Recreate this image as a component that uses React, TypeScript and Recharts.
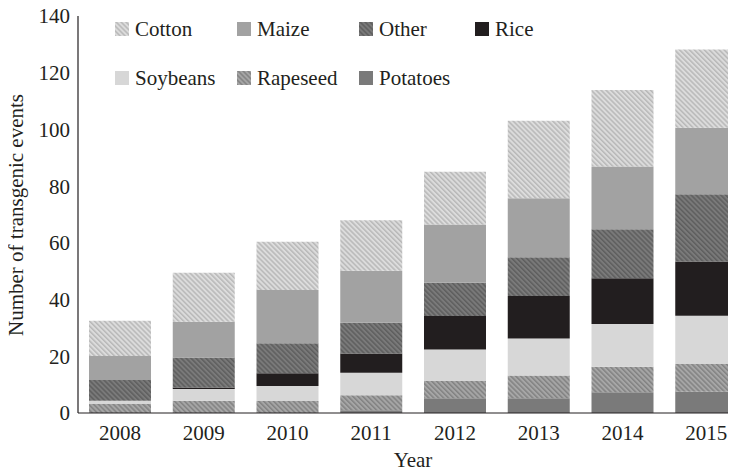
import React from 'react';
import { BarChart, Bar, XAxis, YAxis, Legend } from 'recharts';

const years = ['2008', '2009', '2010', '2011', '2012', '2013', '2014', '2015'];
const potatoes = [0, 0, 0, 1, 5.2, 5.2, 7.3, 7.5];
const rapeseed = [3.2, 4.3, 4.2, 5.3, 6.1, 8, 9, 9.8];
const soybeans = [1.1, 4.2, 5.3, 7.9, 11.1, 13.1, 15.1, 17];
const rice = [0, 0.5, 4.5, 6.8, 11.8, 15, 16.1, 19.1];
const other = [7.3, 10.6, 10.6, 10.8, 11.7, 13.6, 17.3, 23.7];
const maize = [8.5, 12.6, 18.8, 18.4, 20.6, 20.8, 22.1, 23.5];
const cotton = [12.4, 17.3, 17, 17.8, 18.6, 27.4, 27, 27.6];
const yTicks = [0, 20, 40, 60, 80, 100, 120, 140];
const legendOrder = ['Cotton', 'Maize', 'Other', 'Rice', 'Soybeans', 'Rapeseed', 'Potatoes'];

const data = years.map((year, i) => ({
  year,
  Potatoes: potatoes[i],
  Rapeseed: rapeseed[i],
  Soybeans: soybeans[i],
  Rice: rice[i],
  Other: other[i],
  Maize: maize[i],
  Cotton: cotton[i],
}));

const FONT = "'Liberation Serif', 'Times New Roman', serif";
const INK = '#231f20';

const series = [
  { key: 'Potatoes', fill: '#7a7a7a' },
  { key: 'Rapeseed', fill: 'url(#hatchRapeseed)' },
  { key: 'Soybeans', fill: '#d7d7d7' },
  { key: 'Rice', fill: '#221e1f' },
  { key: 'Other', fill: 'url(#hatchOther)' },
  { key: 'Maize', fill: '#a2a2a2' },
  { key: 'Cotton', fill: 'url(#hatchCotton)' },
];

const colWidths = [122, 122, 116, 120];

const LegendContent = (props: any) => {
  const payload: any[] = (props.payload || []).slice();
  payload.sort((a, b) => legendOrder.indexOf(a.value) - legendOrder.indexOf(b.value));
  return (
    <div style={{ position: 'relative', width: 0, height: 0, overflow: 'visible' }}>
      {payload.map((entry, idx) => {
        const row = idx < 4 ? 0 : 1;
        const col = idx < 4 ? idx : idx - 4;
        let left = 0;
        for (let c = 0; c < col; c++) left += colWidths[c];
        return (
          <div
            key={entry.value}
            style={{
              position: 'absolute',
              left,
              top: row * 49,
              display: 'flex',
              alignItems: 'center',
              height: 20,
              whiteSpace: 'nowrap',
            }}
          >
            <svg width={14} height={14} style={{ display: 'block' }}>
              <rect x={0} y={0} width={14} height={14} fill={entry.color} />
            </svg>
            <span style={{ marginLeft: 6, fontFamily: FONT, fontSize: 21, color: INK, lineHeight: '20px' }}>
              {entry.value}
            </span>
          </div>
        );
      })}
    </div>
  );
};

export default function App() {
  return (
    <div style={{ position: 'relative', marginLeft: -8, marginTop: -8, width: 736, height: 473, overflow: 'hidden', background: '#fff' }}>
      <BarChart
        width={748}
        height={473}
        data={data}
        margin={{ top: 16, right: 0, bottom: 0, left: 0 }}
        barSize={62}
      >
        <defs>
          <pattern id="hatchCotton" patternUnits="userSpaceOnUse" width={3.5} height={3.5} patternTransform="rotate(-45)">
            <rect width={3.5} height={3.5} fill="#dcdcdc" />
            <rect width={1.5} height={3.5} fill="#b8b8b8" />
          </pattern>
          <pattern id="hatchOther" patternUnits="userSpaceOnUse" width={3.5} height={3.5} patternTransform="rotate(-45)">
            <rect width={3.5} height={3.5} fill="#7a7a7a" />
            <rect width={1.5} height={3.5} fill="#5e5e5e" />
          </pattern>
          <pattern id="hatchRapeseed" patternUnits="userSpaceOnUse" width={3.5} height={3.5} patternTransform="rotate(-45)">
            <rect width={3.5} height={3.5} fill="#a6a6a6" />
            <rect width={1.5} height={3.5} fill="#828282" />
          </pattern>
        </defs>
        <XAxis
          dataKey="year"
          height={60}
          tickLine={false}
          tickSize={0}
          tickMargin={12}
          axisLine={{ stroke: INK, strokeWidth: 1.2 }}
          tick={{ fill: INK, fontFamily: FONT, fontSize: 21 }}
          label={{ value: 'Year', position: 'insideBottom', offset: 6, fill: INK, fontFamily: FONT, fontSize: 21 }}
        />
        <YAxis
          width={78}
          domain={[0, 140]}
          ticks={yTicks}
          interval={0}
          tickLine={false}
          tickSize={0}
          tickMargin={8}
          axisLine={{ stroke: INK, strokeWidth: 1.2 }}
          tick={{ fill: INK, fontFamily: FONT, fontSize: 21 }}
          label={{
            content: () => (
              <text
                x={16}
                y={215}
                transform="rotate(-90 16 215)"
                textAnchor="middle"
                dominantBaseline="central"
                fill={INK}
                fontFamily={FONT}
                fontSize={21}
              >
                Number of transgenic events
              </text>
            ),
          }}
        />
        <Legend
          content={LegendContent}
          wrapperStyle={{ position: 'absolute', top: 19, left: 115, width: 0, height: 0 }}
        />
        {series.map((s) => (
          <Bar key={s.key} dataKey={s.key} stackId="a" fill={s.fill} isAnimationActive={false} />
        ))}
      </BarChart>
    </div>
  );
}
